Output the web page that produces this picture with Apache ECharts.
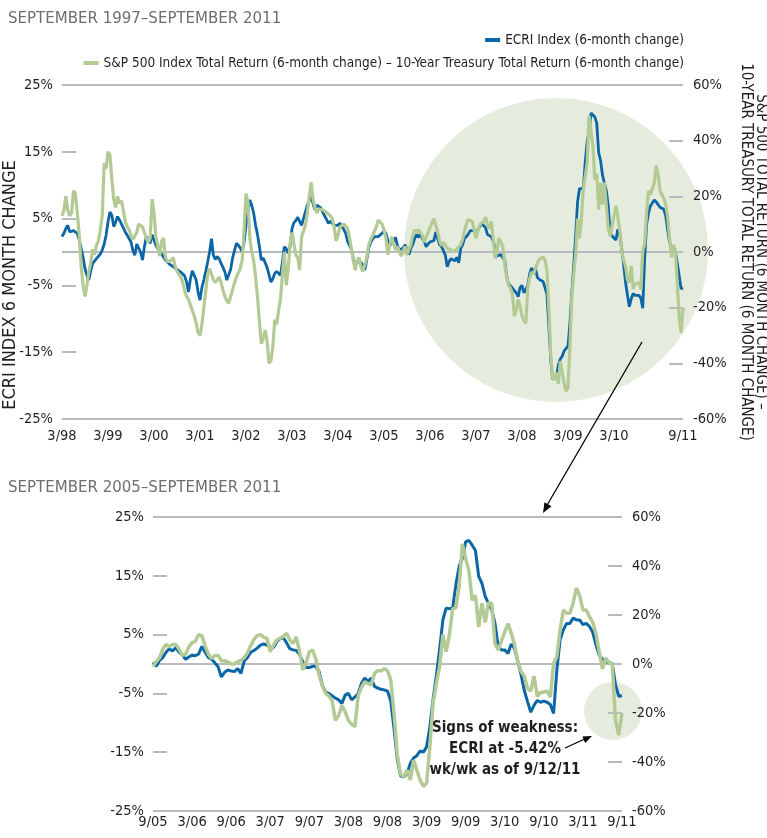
<!DOCTYPE html>
<html>
<head>
<meta charset="UTF-8">
<script src="https://cdn.jsdelivr.net/npm/echarts@6/dist/echarts.min.js"></script>
<style>
    html, body { margin: 0; padding: 0; background: #fff; }
    #main { width: 767px; height: 838px; }
</style>
</head>
<body>
<div id="main"></div>
<script>
// ECRI index, 6-month change (%), twice a month (1st and 15th) from 3/98 to 9/11
var ecri = [
    2.3, 2.8, 3.5, 4.0, 3.0, 2.9, 3.2, 3.1, 2.8, 1.8,
    0.5, -0.8, -2.5, -3.5, -4.2, -2.8, -1.7, -1.5, -1.0, -0.8,
    -0.3, 0.3, 1.2, 2.5, 4.5, 6.0, 5.5, 3.8, 4.5, 5.3,
    4.8, 4.2, 3.6, 3.0, 2.5, 2.0, 1.5, 0.2, -0.5, 1.2,
    1.0, 0.0, -1.2, 0.8, 2.3, 1.8, 1.3, 2.6, 1.8, 1.0,
    0.5, 0.3, -0.3, -0.8, -1.2, -1.5, -1.8, -2.0, -2.2, -2.4,
    -2.6, -2.7, -3.0, -3.3, -3.6, -4.5, -6.0, -4.0, -2.8, -3.5,
    -4.2, -6.0, -7.2, -5.3, -4.2, -2.9, -1.5, 0.0, 2.0, -0.5,
    -1.1, -0.7, -1.0, -1.7, -2.3, -3.0, -4.2, -4.3, -2.6, -0.9,
    0.2, 1.3, 1.0, 0.6, 0.0, 1.5, 4.0, 6.0, 7.8, 7.0,
    5.8, 4.0, 2.6, 0.8, -1.2, -0.9, -0.9, -2.3, -3.4, -4.5,
    -4.0, -3.2, -2.9, -2.8, -3.5, -1.5, 0.8, 0.5, -0.2, 0.8,
    3.5, 4.4, 4.7, 5.2, 4.6, 4.0, 5.0, 6.0, 7.0, 7.7,
    8.3, 7.2, 6.3, 7.0, 7.1, 6.6, 6.0, 5.4, 4.9, 4.3,
    4.6, 4.6, 4.0, 3.8, 4.0, 4.3, 3.8, 3.4, 2.8, 1.6,
    1.0, 0.4, -1.0, -2.2, -1.5, -1.3, -1.6, -2.0, -2.7, -1.2,
    0.5, 1.4, 1.9, 2.3, 2.3, 2.3, 2.5, 2.8, 3.1, 2.8,
    1.7, 1.0, 0.8, 1.6, 2.2, 1.0, 0.3, 0.3, 0.6, 1.1,
    0.3, -0.4, 0.6, 1.1, 2.0, 2.6, 2.2, 2.8, 2.0, 1.6,
    0.8, 1.2, 1.5, 1.4, 1.7, 3.0, 2.0, 1.1, 0.8, 0.2,
    -0.5, -2.2, -1.4, -1.0, -1.2, -1.3, -0.8, -1.6, 0.5, 1.1,
    2.0, 2.3, 2.7, 3.2, 3.4, 3.2, 2.9, 2.8, 3.8, 4.3,
    4.5, 3.6, 2.6, 2.4, 2.3, 1.6, 0.4, -0.6, -0.6, -0.4,
    -0.4, -1.3, -3.6, -4.8, -5.0, -5.4, -5.8, -6.1, -6.7, -5.3,
    -5.0, -6.1, -5.6, -5.0, -3.3, -2.4, -3.0, -2.4, -3.8, -4.1,
    -4.3, -4.4, -4.6, -6.3, -11.0, -16.2, -19.0, -19.2, -18.6, -16.9,
    -16.0, -15.6, -14.8, -15.0, -14.1, -10.7, -6.0, -2.0, 2.5, 7.5,
    9.5, 9.4, 9.5, 13.5, 16.6, 18.0, 20.8, 21.0, 20.2, 19.3,
    14.9, 13.7, 11.5, 10.3, 9.2, 6.9, 2.9, 2.4, 2.4, 1.8,
    3.4, 2.6, 0.5, -1.8, -4.5, -6.4, -8.2, -7.0, -6.2, -6.5,
    -6.3, -6.5, -6.9, -8.4, -1.0, 4.1, 5.8, 6.9, 6.9, 7.8,
    7.5, 7.5, 6.7, 6.9, 6.4, 5.4, 3.3, 1.5, 0.8, 0.5,
    0.2, 0.1, -3.5, -5.5, -5.4
];

// S&P 500 total return minus 10-year Treasury total return, 6-month change (%)
var spread = [
    13, 15, 20, 15, 13, 14, 22, 21, 14, 6,
    -5, -12, -16, -12, -7, -4, 1, -1, 2.5, 4,
    8, 13, 32, 30, 36, 35, 26, 19, 16, 20,
    17.5, 18.5, 15, 11, 9, 8, 6, 4.5, 5, 7,
    10, 9.5, 9, 7, 5, 3.5, 5, 19, 14, 5.5,
    2, -1.5, 4, 5, -2, -3.5, -4, -3, -2, -5,
    -7, -7.5, -9, -11, -14, -16, -17, -19, -21, -23,
    -25.6, -29, -30, -26, -20, -14, -8, -6, -6, -10,
    -11, -10, -9, -11, -13.7, -16, -17.5, -18.4, -16, -13.5,
    -11, -9, -7.5, -6, -3, 8, 21, 18, 5, 0,
    -3, -9, -16, -25, -33, -31, -28, -32, -40, -39,
    -34, -24.4, -26, -21, -17, -8, 0, -12, -6.5, 3,
    7, 3, -1, -2, -6.5, 5.5, 7.5, 9.5, 14, 20,
    25, 18.7, 16, 14, 15.5, 16, 15.2, 14.5, 14.2, 14,
    13, 12, 9, 4, 6, 9, 9.5, 10, 9.5, 8.5,
    5, 1, -3, -6.5, -3, -2, -5.5, -7, -7.7, -2,
    2.5, 4.5, 5.8, 6.5, 9, 11.5, 11, 10, 8, 5,
    -1, -1, 5.5, 3, 0.7, 2, 2, -1.5, -2, 2,
    -1, 1, 2.5, 6, 8, 7, 8, 8, 6, 3.5,
    4, 7, 8.7, 9.2, 12, 11.5, 7.3, 4, 2.3, 3.5,
    3.5, 1.3, 1.3, 0.8, 0, 0, 1, 1.5, 2.6, 4.5,
    7.5, 10, 11.7, 12, 11, 10.5, 5, 7.8, 9.8, 10.5,
    11.2, 12.5, 9.8, 8.4, 11, 5, -2.4, 0.5, 5, 5.7,
    2, -4.5, -9, -12, -13, -15, -23, -21, -17, -19.5,
    -23, -24.6, -25.6, -13, -9.5, -7.2, -8, -8.5, -4, -2.6,
    -2.9, -1.9, -2.8, -6.5, -20, -37, -45, -46, -43.3, -47.3,
    -39.2, -43.3, -47.3, -50, -48.7, -33.7, -16, -7.9, -1, 12,
    5, 12, 22.5, 23, 32, 49, 43, 38, 26, 28,
    15.2, 24.8, 17, 25, 24.8, 8.4, 5.7, 9.5, 13, 16.5,
    12.5, 8, 1, -3, -5, -10, -11, -5, -13.3, -11.5,
    -11.5, -11, -13.5, 0.3, 3, 13.9, 22, 20.7, 20.7, 24.8,
    31, 28, 22, 22, 19.3, 17, 12.5, 5, -2, 2.5,
    0.5, 0, -23, -29, -20
];

var ecriTicks = [-25, -15, -5, 5, 15, 25];
var ecriInnerTicks = [-15, -5, 5, 15];
var zoomStart = 180;   // 9/1/05

var ecriName = 'ECRI Index (6-month change)';
var spreadName = 'S&P 500 Index Total Return (6-month change) \u2013 10-Year Treasury Total Return (6-month change)';

// dates 3/1/98, 3/15/98, 4/1/98 ... 9/1/11
var dates = [];
for (var i = 0; i < ecri.length; i++) {
    var mm = 3 + Math.floor(i / 2);
    var yr = 1998 + Math.floor((mm - 1) / 12);
    dates.push(((mm - 1) % 12 + 1) + '/' + (i % 2 ? 15 : 1) + '/' + String(yr).slice(2));
}
var monthLabel = function (value) { return value.replace(/\/\d+\//, '/'); };

var FONT = "'DejaVu Sans Condensed', 'Liberation Sans', sans-serif";
var GRID_COLOR = '#b7bbbf';
var TEXT_COLOR = '#231f20';
var BLUE = '#0a66a6';
var GREEN = '#b3ca95';
var CIRCLE = '#e6ecdd';

var tickStyle = { color: GRID_COLOR, width: 2 };

var leftAxis = function (grid) {
    return {
        type: 'value', gridIndex: grid, position: 'left', min: -25, max: 25,
        splitLine: { show: false },
        axisLine: { show: false },
        axisTick: { show: true, inside: true, length: 14, customValues: ecriInnerTicks, lineStyle: tickStyle },
        axisLabel: { customValues: ecriTicks, formatter: '{value}%', margin: 9, color: TEXT_COLOR, fontSize: 14.5, fontFamily: FONT }
    };
};
var rightAxis = function (grid) {
    return {
        type: 'value', gridIndex: grid, position: 'right', min: -60, max: 60, interval: 20,
        splitLine: { show: false },
        axisLine: { show: false },
        axisTick: { show: true, inside: true, length: 14, lineStyle: tickStyle },
        axisLabel: { formatter: '{value}%', margin: 10, color: TEXT_COLOR, fontSize: 14.5, fontFamily: FONT }
    };
};
// only the 25%, 0% and -25% lines run across the plot
var lineAxis = function (grid) {
    return {
        type: 'value', gridIndex: grid, position: 'left', min: -25, max: 25, interval: 25,
        axisLabel: { show: false }, axisTick: { show: false }, axisLine: { show: false },
        splitLine: { show: true, lineStyle: { color: GRID_COLOR, width: 2 } }
    };
};

var topRight = rightAxis(0);
topRight.name = 'S&P 500 TOTAL RETURN (6 MONTH CHANGE) \u2013\n10-YEAR TREASURY TOTAL RETURN (6 MONTH CHANGE)';
topRight.nameLocation = 'middle';
topRight.nameRotate = -90;
topRight.nameGap = 55;
topRight.nameTextStyle = { color: TEXT_COLOR, fontSize: 15, lineHeight: 15, fontFamily: FONT };

var myChart = echarts.init(document.getElementById('main'), null, { renderer: 'canvas' });

var option = {
    animation: false,
    backgroundColor: '#fff',
    title: [
        { text: 'SEPTEMBER 1997\u2013SEPTEMBER 2011', left: 3, top: 5, textStyle: { color: '#6d6e71', fontWeight: 'normal', fontSize: 16.7, fontFamily: FONT } },
        { text: 'SEPTEMBER 2005\u2013SEPTEMBER 2011', left: 3, top: 474, textStyle: { color: '#6d6e71', fontWeight: 'normal', fontSize: 16.7, fontFamily: FONT } }
    ],
    legend: [
        { data: [ecriName], right: 78, top: 28, icon: 'rect', itemWidth: 15, itemHeight: 4, itemGap: 5,
          textStyle: { color: TEXT_COLOR, fontSize: 13.5, fontFamily: FONT } },
        { data: [spreadName], right: 78, top: 51, icon: 'rect', itemWidth: 15, itemHeight: 4, itemGap: 5,
          textStyle: { color: TEXT_COLOR, fontSize: 13.5, fontFamily: FONT } }
    ],
    grid: [
        { left: 62, right: 84, top: 85, height: 334, outerBoundsMode: 'none' },
        { left: 153, right: 145, top: 517, height: 294, outerBoundsMode: 'none' }
    ],
    xAxis: [
        {
            type: 'category', gridIndex: 0, data: dates, boundaryGap: false,
            axisLine: { show: false }, axisTick: { show: false },
            axisLabel: {
                interval: function (index) { return (index % 24 === 0 && index <= 288) || index === dates.length - 1; },
                formatter: monthLabel,
                margin: 10, color: TEXT_COLOR, fontSize: 14.5, fontFamily: FONT
            }
        },
        {
            type: 'category', gridIndex: 1, data: dates.slice(zoomStart), boundaryGap: false,
            axisLine: { show: false }, axisTick: { show: false },
            axisLabel: {
                interval: function (index) { return index % 12 === 0; },
                formatter: monthLabel,
                margin: 4, color: TEXT_COLOR, fontSize: 14.5, fontFamily: FONT
            }
        }
    ],
    yAxis: [leftAxis(0), topRight, lineAxis(0), leftAxis(1), rightAxis(1), lineAxis(1)],
    graphic: [
        { type: 'circle', z: -10, shape: { cx: 556, cy: 250, r: 152 }, style: { fill: CIRCLE } },
        { type: 'circle', z: -10, shape: { cx: 613, cy: 711, r: 29 }, style: { fill: CIRCLE } },
        { type: 'text', x: 10, y: 285, rotation: Math.PI / 2,
          style: { text: 'ECRI INDEX 6 MONTH CHANGE', fill: TEXT_COLOR, font: '18px ' + FONT, textAlign: 'center', textVerticalAlign: 'middle' } },
        // arrow from the circle down to the zoomed chart
        { type: 'line', z: 50, shape: { x1: 642, y1: 342, x2: 546, y2: 507 }, style: { stroke: '#000', lineWidth: 1.3 } },
        { type: 'polygon', z: 50, shape: { points: [[543, 513], [551.5, 506.3], [544.5, 502.3]] }, style: { fill: '#000' } },
        { type: 'text', z: 50, x: 505, y: 718,
          style: { text: 'Signs of weakness:\nECRI at -5.42%\nwk/wk as of 9/12/11', fill: TEXT_COLOR, font: 'bold 15px ' + FONT,
                   lineHeight: 21, textAlign: 'center', textVerticalAlign: 'top' } },
        { type: 'line', z: 50, shape: { x1: 565, y1: 748, x2: 587, y2: 738 }, style: { stroke: '#000', lineWidth: 1.3 } },
        { type: 'polygon', z: 50, shape: { points: [[592, 736], [585.2, 742.9], [582.4, 736.5]] }, style: { fill: '#000' } }
    ],
    series: [
        { name: ecriName, type: 'line', xAxisIndex: 0, yAxisIndex: 0, data: ecri, symbol: 'none', z: 3,
          lineStyle: { color: BLUE, width: 2.8 }, itemStyle: { color: BLUE } },
        { name: spreadName, type: 'line', xAxisIndex: 0, yAxisIndex: 1, data: spread, symbol: 'none', z: 4,
          lineStyle: { color: GREEN, width: 3.2 }, itemStyle: { color: GREEN } },
        { name: ecriName, type: 'line', xAxisIndex: 1, yAxisIndex: 3, data: ecri.slice(zoomStart), symbol: 'none', z: 3,
          lineStyle: { color: BLUE, width: 3 }, itemStyle: { color: BLUE } },
        { name: spreadName, type: 'line', xAxisIndex: 1, yAxisIndex: 4, data: spread.slice(zoomStart), symbol: 'none', z: 4,
          lineStyle: { color: GREEN, width: 3.5 }, itemStyle: { color: GREEN } }
    ]
};

myChart.setOption(option);
</script>
</body>
</html>
